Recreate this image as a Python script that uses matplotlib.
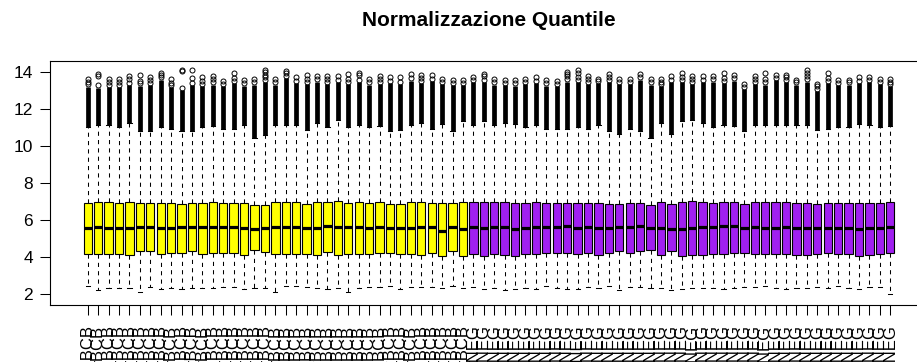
import matplotlib.pyplot as plt

plt.rcParams['font.family'] = ['Liberation Sans', 'DejaVu Sans']

# box statistics, one value per array (78 arrays/samples)
q3 = [6.92, 6.97, 6.97, 6.92, 6.97, 6.92, 6.92, 6.92, 6.92, 6.86,
      6.92, 6.92, 6.97, 6.92, 6.92, 6.92, 6.81, 6.81, 6.97, 6.97,
      6.97, 6.86, 6.97, 6.97, 7.03, 6.92, 6.97, 6.92, 6.97, 6.86,
      6.86, 6.97, 6.97, 6.92, 6.92, 6.92, 6.97, 6.97, 6.97, 6.97,
      6.97, 6.92, 6.92, 6.97, 6.92, 6.92, 6.92, 6.92, 6.92, 6.92,
      6.86, 6.86, 6.92, 6.92, 6.81, 6.97, 6.86, 6.97, 7.03, 6.97,
      6.92, 6.97, 6.97, 6.86, 6.97, 6.97, 6.97, 6.97, 6.92, 6.92,
      6.86, 6.92, 6.92, 6.92, 6.92, 6.92, 6.92, 6.97]
med = [5.57, 5.62, 5.57, 5.57, 5.57, 5.62, 5.62, 5.57, 5.57, 5.62,
       5.62, 5.62, 5.62, 5.62, 5.62, 5.57, 5.51, 5.57, 5.62, 5.62,
       5.62, 5.57, 5.57, 5.69, 5.62, 5.62, 5.62, 5.57, 5.62, 5.57,
       5.57, 5.57, 5.62, 5.62, 5.44, 5.62, 5.51, 5.62, 5.57, 5.62,
       5.62, 5.51, 5.57, 5.62, 5.62, 5.62, 5.69, 5.57, 5.62, 5.57,
       5.57, 5.62, 5.62, 5.69, 5.57, 5.57, 5.51, 5.51, 5.57, 5.62,
       5.62, 5.69, 5.69, 5.57, 5.62, 5.57, 5.57, 5.62, 5.57, 5.57,
       5.57, 5.57, 5.57, 5.57, 5.51, 5.57, 5.57, 5.62]
q1 = [4.18, 4.18, 4.18, 4.18, 4.11, 4.32, 4.32, 4.18, 4.23, 4.23,
      4.32, 4.18, 4.21, 4.23, 4.23, 4.11, 4.38, 4.27, 4.18, 4.18,
      4.18, 4.18, 4.11, 4.27, 4.11, 4.18, 4.18, 4.18, 4.23, 4.23,
      4.18, 4.18, 4.11, 4.23, 4.05, 4.32, 4.05, 4.18, 4.05, 4.18,
      4.11, 4.05, 4.18, 4.18, 4.23, 4.23, 4.23, 4.18, 4.23, 4.11,
      4.23, 4.32, 4.23, 4.32, 4.38, 4.11, 4.32, 4.05, 4.11, 4.11,
      4.18, 4.18, 4.23, 4.23, 4.18, 4.18, 4.18, 4.18, 4.11, 4.11,
      4.18, 4.23, 4.18, 4.18, 4.05, 4.11, 4.18, 4.23]
whis_lo = [2.47, 2.23, 2.32, 2.36, 2.32, 2.14, 2.41, 2.27, 2.32, 2.29,
           2.32, 2.32, 2.32, 2.39, 2.39, 2.29, 2.36, 2.36, 2.14, 2.47,
           2.47, 2.39, 2.36, 2.29, 2.36, 2.14, 2.36, 2.41, 2.41, 2.47,
           2.27, 2.39, 2.39, 2.39, 2.36, 2.47, 2.36, 2.41, 2.27, 2.36,
           2.23, 2.27, 2.36, 2.27, 2.47, 2.36, 2.27, 2.27, 2.39, 2.32,
           2.47, 2.23, 2.39, 2.39, 2.32, 2.32, 2.23, 2.27, 2.36, 2.36,
           2.36, 2.27, 2.36, 2.39, 2.39, 2.47, 2.36, 2.27, 2.36, 2.36,
           2.39, 2.36, 2.47, 2.36, 2.27, 2.39, 2.39, 2.00]
whis_hi = [11.03, 11.16, 11.16, 11.03, 11.26, 10.82, 10.82, 11.03, 10.96, 10.81,
           10.82, 11.03, 11.11, 10.96, 10.96, 11.14, 10.46, 10.62, 11.16, 11.16,
           11.16, 10.88, 11.26, 11.02, 11.41, 11.03, 11.16, 11.03, 11.08, 10.81,
           10.88, 11.16, 11.26, 10.96, 11.23, 10.82, 11.35, 11.16, 11.35, 11.16,
           11.26, 11.23, 11.03, 11.16, 10.96, 10.96, 10.96, 11.03, 10.96, 11.14,
           10.81, 10.67, 10.96, 10.82, 10.46, 11.26, 10.67, 11.35, 11.41, 11.26,
           11.03, 11.16, 11.08, 10.81, 11.16, 11.16, 11.16, 11.16, 11.14, 11.14,
           10.88, 10.96, 11.03, 11.03, 11.23, 11.14, 11.03, 11.08]
# top of the solid black run of outliers above each upper whisker
dense_top = [13.22, 13.15, 13.20, 13.18, 13.30, 13.28, 13.30, 13.60, 13.18, 13.02,
             13.30, 13.25, 13.32, 13.25, 13.40, 13.28, 13.32, 13.45, 13.32, 13.70,
             13.42, 13.35, 13.50, 13.38, 13.48, 13.35, 13.48, 13.32, 13.35, 13.42,
             13.38, 13.55, 13.42, 13.52, 13.35, 13.30, 13.30, 13.48, 13.48, 13.32,
             13.30, 13.28, 13.38, 13.42, 13.28, 13.25, 13.50, 13.48, 13.38, 13.40,
             13.48, 13.38, 13.35, 13.60, 13.32, 13.24, 13.48, 13.48, 13.35, 13.48,
             13.50, 13.42, 13.55, 13.08, 13.38, 13.32, 13.58, 13.48, 13.32, 13.50,
             12.98, 13.40, 13.30, 13.32, 13.42, 13.45, 13.35, 13.24]
# separate outlier circles above the solid run
fliers = [
    [13.62, 13.48, 13.36], [13.92, 13.78, 13.30], [13.62, 13.45, 13.33],
    [13.62, 13.50, 13.30], [13.78, 13.66, 13.42], [13.88, 13.55, 13.40],
    [13.72, 13.60, 13.42], [13.98, 13.85, 13.72], [13.62, 13.42, 13.30],
    [14.12, 14.05, 13.15], [14.12, 13.68, 13.42], [13.72, 13.55, 13.38],
    [13.82, 13.62, 13.45], [13.52, 13.38], [13.98, 13.70, 13.52],
    [13.58, 13.40], [13.62, 13.45], [14.12, 14.00, 13.88, 13.75, 13.60],
    [13.66, 13.45], [14.06, 13.95, 13.82], [13.72, 13.55],
    [13.86, 13.65, 13.48], [13.82, 13.62], [13.82, 13.66, 13.50],
    [13.78, 13.60], [13.92, 13.62, 13.48], [13.98, 13.86, 13.60],
    [13.62, 13.45], [13.78, 13.62, 13.48], [13.72, 13.55],
    [13.72, 13.50], [13.92, 13.68], [13.86, 13.70, 13.55],
    [13.86, 13.66], [13.62, 13.48], [13.58, 13.42],
    [13.58, 13.44], [13.72, 13.60], [13.90, 13.78, 13.60],
    [13.62, 13.45], [13.58, 13.44], [13.58, 13.40],
    [13.66, 13.50], [13.72, 13.55], [13.58, 13.40],
    [13.52, 13.38], [14.02, 13.92, 13.78, 13.62], [14.12, 13.98, 13.75, 13.60],
    [13.78, 13.62, 13.50], [13.66, 13.52], [13.92, 13.75, 13.60],
    [13.66, 13.50], [13.66, 13.48], [13.92, 13.72],
    [13.62, 13.45], [13.62, 13.48, 13.36], [13.78, 13.60],
    [13.98, 13.75, 13.60], [13.78, 13.62, 13.48], [13.78, 13.60],
    [13.78, 13.62], [13.98, 13.70, 13.55], [13.86, 13.68],
    [13.38, 13.20], [13.82, 13.65, 13.50], [13.98, 13.65, 13.45],
    [13.86, 13.70], [13.86, 13.75, 13.60], [13.58, 13.45],
    [14.12, 13.95, 13.80, 13.62], [13.38, 13.25, 13.10], [13.98, 13.70, 13.52],
    [13.58, 13.42], [13.58, 13.45], [13.72, 13.55],
    [13.72, 13.58], [13.62, 13.48], [13.66, 13.50, 13.36],
]

n_yellow = 37
n_purple = 41
labels = ([f"S{i + 1:02d}_BCB" for i in range(n_yellow)] +
          [f"S{i + 1:02d}_NEG" for i in range(n_purple)])
colors = ['yellow'] * n_yellow + ['#A020F0'] * n_purple

n = len(q3)
pos = list(range(1, n + 1))
stats = []
for i in range(n):
    stats.append({'med': med[i], 'q1': q1[i], 'q3': q3[i],
                  'whislo': whis_lo[i], 'whishi': whis_hi[i],
                  'fliers': fliers[i]})

fig = plt.figure(figsize=(9.17, 3.62), dpi=100)
ax = fig.add_axes([50 / 917, 57 / 362, 878 / 917, 244 / 362])

# solid runs of overlapping outlier circles
ax.vlines(pos, whis_hi, dense_top, color='black', lw=3.4, zorder=1)

bp = ax.bxp(stats, positions=pos, widths=0.8, patch_artist=True,
            showfliers=True, capwidths=0.4,
            boxprops=dict(edgecolor='black', lw=0.8),
            medianprops=dict(color='black', lw=2.3, solid_capstyle='butt'),
            whiskerprops=dict(color='black', lw=0.75, linestyle=(0, (4, 4))),
            capprops=dict(color='black', lw=0.75),
            flierprops=dict(marker='o', markerfacecolor='none',
                            markeredgecolor='black', markersize=3.6,
                            markeredgewidth=0.7))
for patch, c in zip(bp['boxes'], colors):
    patch.set_facecolor(c)

ax.set_xlim(-2.62, 81.62)
ax.set_ylim(1.42, 14.61)
ax.set_yticks([2, 4, 6, 8, 10, 12, 14])
ax.set_xticks(pos)
ax.set_xticklabels(labels, rotation=90, fontsize=12)
ax.tick_params(axis='x', length=7.2, width=0.75, pad=7.5)
ax.tick_params(axis='y', length=7.2, width=0.75, pad=5, labelsize=12.5)
for s in ax.spines.values():
    s.set_linewidth(0.8)

fig.text(489 / 917, 1 - 20 / 362, "Normalizzazione Quantile",
         ha='center', va='center', fontsize=15, fontweight='bold')

fig.savefig('out.png', dpi=100)
